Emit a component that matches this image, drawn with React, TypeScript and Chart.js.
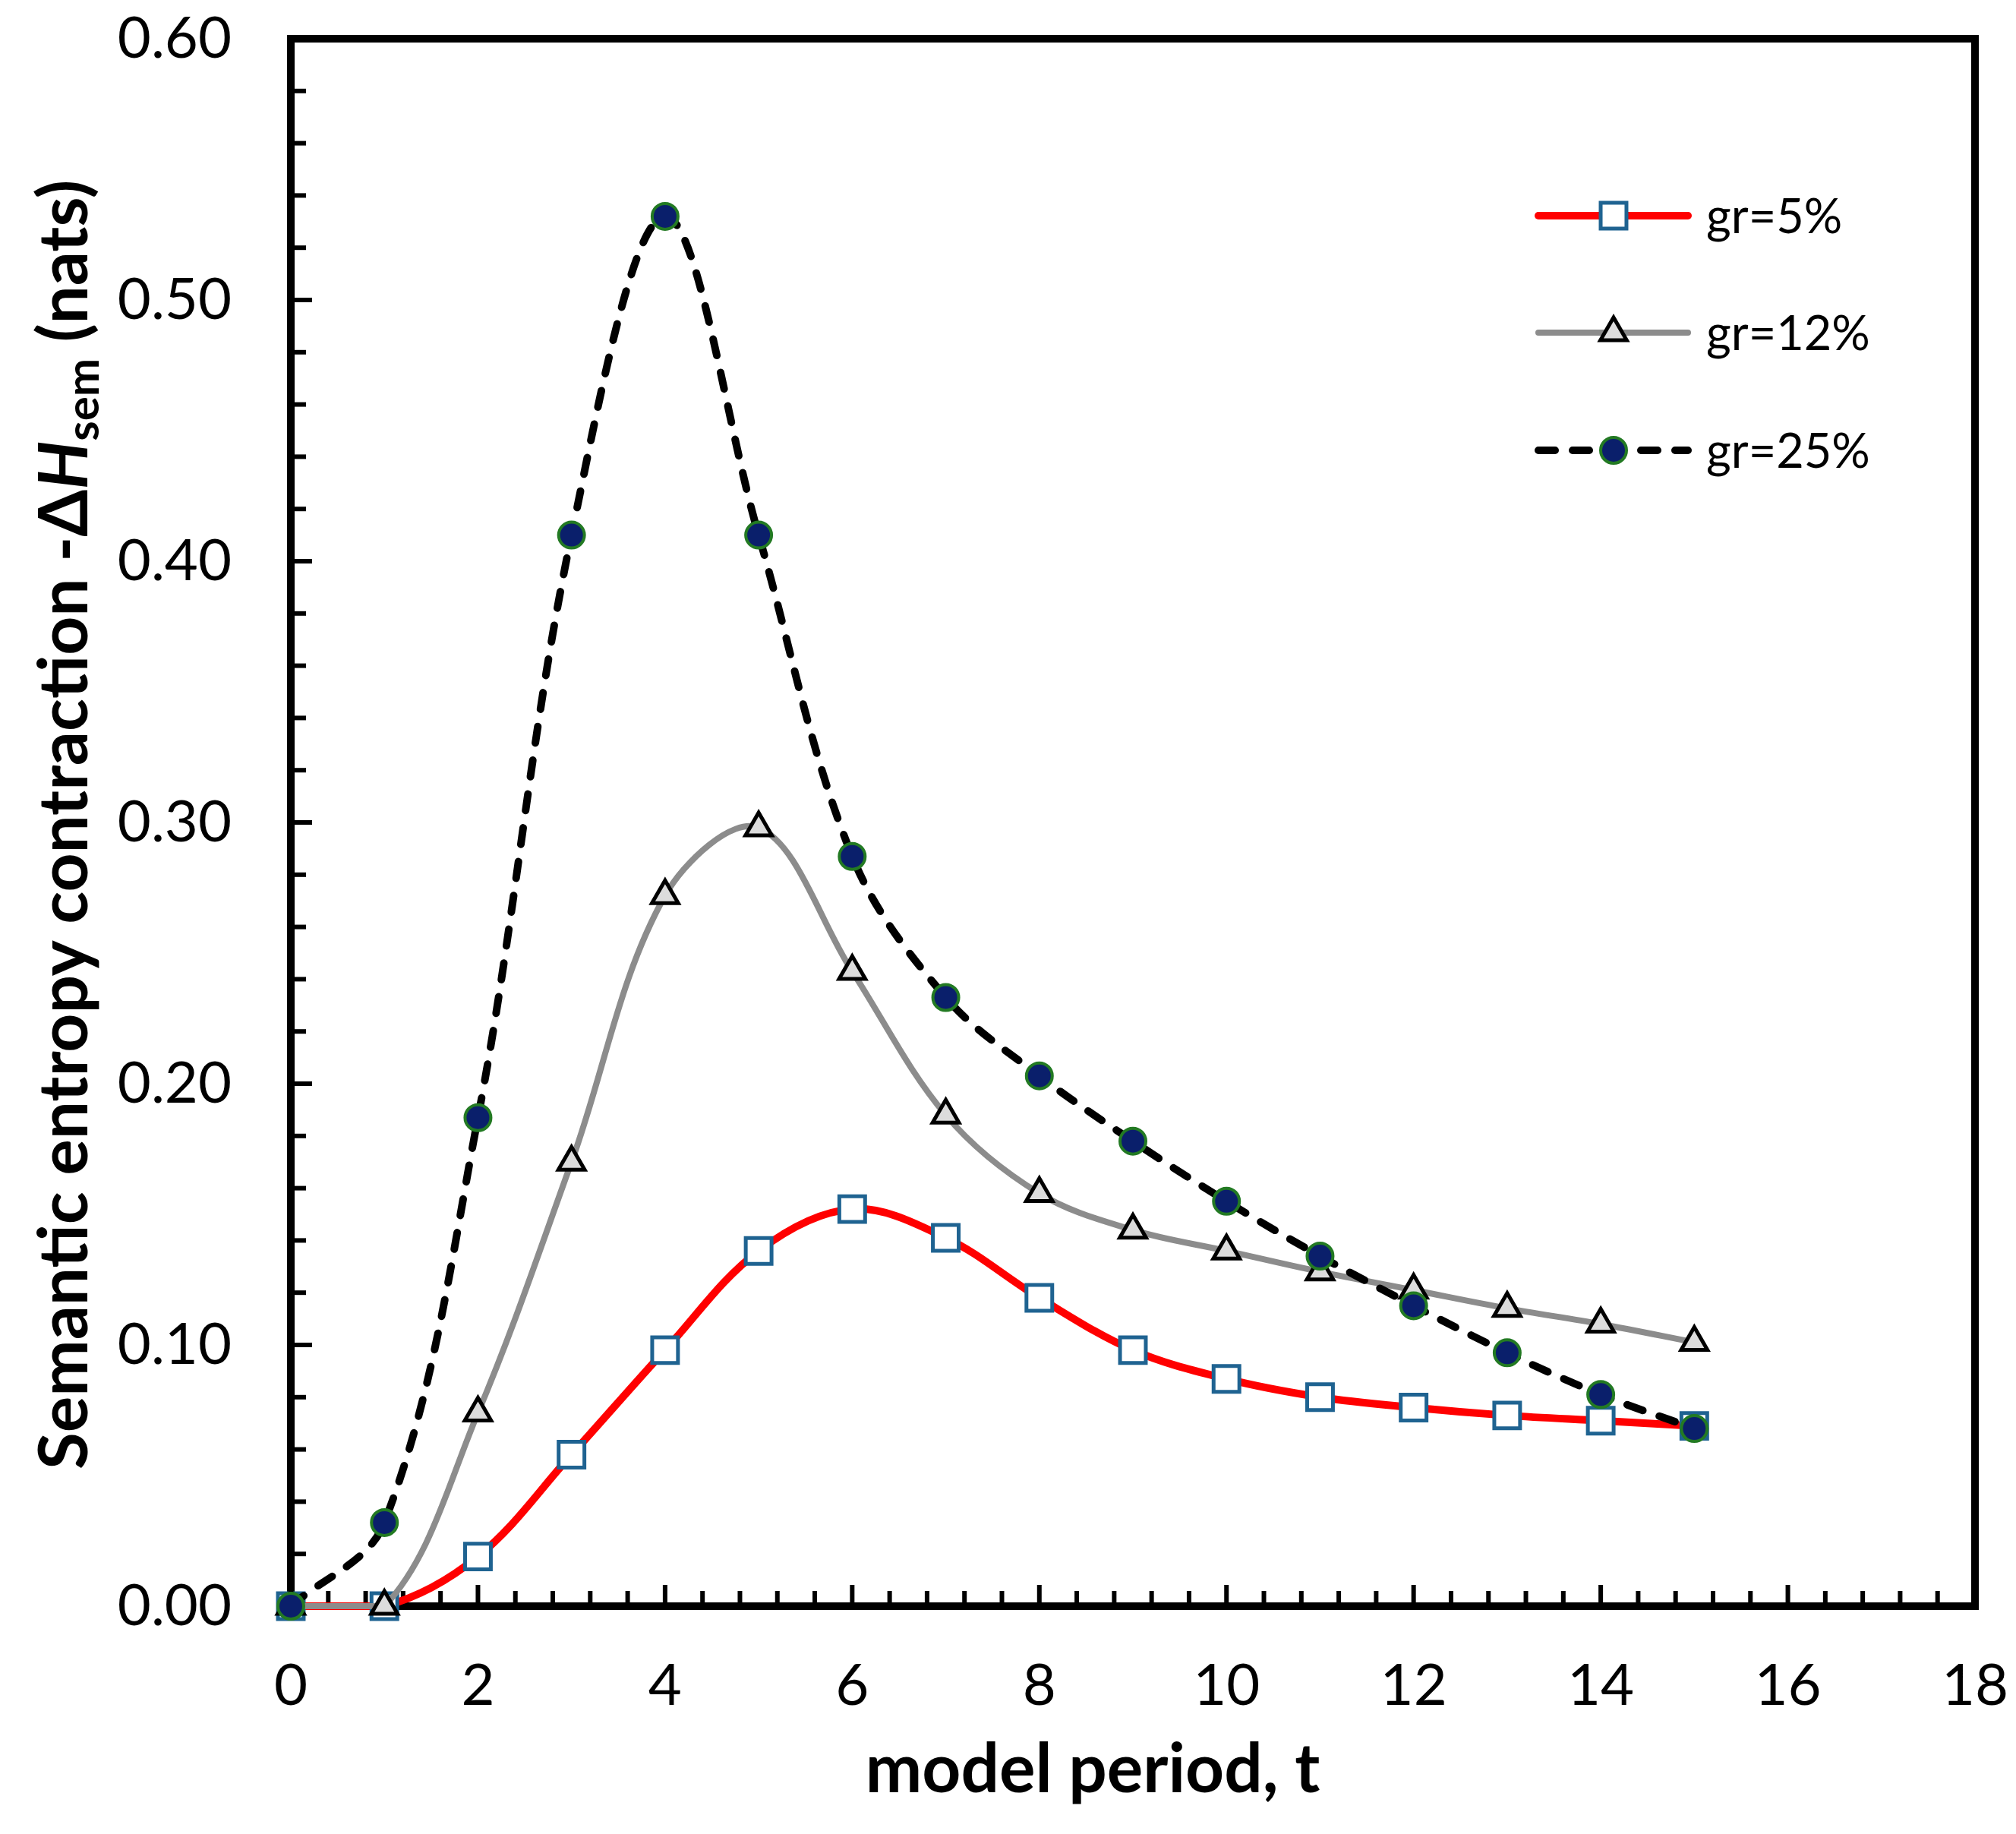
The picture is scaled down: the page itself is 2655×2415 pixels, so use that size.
import React, { useEffect, useRef } from 'react';
import { Chart, registerables } from 'chart.js';

Chart.register(...registerables);

// ---- data ----
const periods = [0, 1, 2, 3, 4, 5, 6, 7, 8, 9, 10, 11, 12, 13, 14, 15];
const gr5 = [0, 0, 0.019, 0.058, 0.098, 0.136, 0.152, 0.141, 0.118, 0.098, 0.087, 0.080, 0.076, 0.073, 0.071, 0.069];
const gr12 = [0, 0, 0.074, 0.170, 0.272, 0.298, 0.243, 0.188, 0.158, 0.144, 0.136, 0.128, 0.121, 0.114, 0.108, 0.101];
const gr25 = [0, 0.032, 0.187, 0.410, 0.532, 0.410, 0.287, 0.233, 0.203, 0.178, 0.155, 0.134, 0.115, 0.097, 0.081, 0.068];
const seriesLabels = ['gr=5%', 'gr=12%', 'gr=25%'];

const xMin = 0, xMax = 18, xMajor = 2, xMinor = 0.4;
const yMin = 0, yMax = 0.6, yMajor = 0.1, yMinor = 0.02;

const xTitle = 'model period, t';
const yTitleParts = [
  { text: 'Semantic entropy contraction -\u0394', italic: false, sub: false },
  { text: 'H', italic: true, sub: false },
  { text: 'sem', italic: false, sub: true },
  { text: ' (nats)', italic: false, sub: false },
];

// ---- styling ----
const W = 2655;
const H = 2415;
const FONT = 'Lato, "Noto Sans", sans-serif';
const RED = '#FF0000';
const GREY = '#8C8C8C';
const SQUARE_EDGE = '#1F6391';
const TRI_FILL = '#DCDCDC';
const NAVY = '#0A1F6B';
const GREEN = '#237A23';
const DASH = [22, 23];
const SQUARE_R = 24;
const TRI_R = 20;
const CIRCLE_R = 17;

type Marker = 'rect' | 'triangle' | 'circle';

function drawMarker(ctx: CanvasRenderingContext2D, kind: Marker, x: number, y: number) {
  ctx.save();
  ctx.setLineDash([]);
  ctx.beginPath();
  if (kind === 'rect') {
    const s = SQUARE_R * Math.SQRT1_2;
    ctx.rect(x - s, y - s, 2 * s, 2 * s);
    ctx.fillStyle = '#FFFFFF';
    ctx.strokeStyle = SQUARE_EDGE;
    ctx.lineWidth = 5;
  } else if (kind === 'triangle') {
    const r = TRI_R;
    ctx.moveTo(x, y - r);
    ctx.lineTo(x + r * 0.866, y + r * 0.5);
    ctx.lineTo(x - r * 0.866, y + r * 0.5);
    ctx.closePath();
    ctx.fillStyle = TRI_FILL;
    ctx.strokeStyle = '#000000';
    ctx.lineWidth = 5;
  } else {
    ctx.arc(x, y, CIRCLE_R, 0, Math.PI * 2);
    ctx.fillStyle = NAVY;
    ctx.strokeStyle = GREEN;
    ctx.lineWidth = 4;
  }
  ctx.fill();
  ctx.stroke();
  ctx.restore();
}

// Box frame plus inward-pointing major/minor tick marks
const frameTicks = {
  id: 'frameTicks',
  beforeDatasetsDraw(chart: any) {
    const { ctx, chartArea: a, scales } = chart;
    const xs = scales.x;
    const ys = scales.y;
    ctx.save();
    ctx.strokeStyle = '#000';
    ctx.lineWidth = 10;
    ctx.lineJoin = 'miter';
    ctx.strokeRect(a.left, a.top, a.right - a.left, a.bottom - a.top);

    ctx.lineWidth = 6;
    ctx.lineCap = 'butt';
    const nx = Math.round((xMax - xMin) / xMinor);
    const perX = Math.round(xMajor / xMinor);
    for (let i = 1; i < nx; i++) {
      const px = xs.getPixelForValue(xMin + i * xMinor);
      const len = i % perX === 0 ? 28 : 20;
      ctx.beginPath();
      ctx.moveTo(px, a.bottom);
      ctx.lineTo(px, a.bottom - len);
      ctx.stroke();
    }
    const ny = Math.round((yMax - yMin) / yMinor);
    const perY = Math.round(yMajor / yMinor);
    for (let i = 1; i < ny; i++) {
      const py = ys.getPixelForValue(yMin + i * yMinor);
      const len = i % perY === 0 ? 28 : 20;
      ctx.beginPath();
      ctx.moveTo(a.left, py);
      ctx.lineTo(a.left + len, py);
      ctx.stroke();
    }
    ctx.restore();
  },
};

// Legend with line sample and marker, plus axis titles
const annotations = {
  id: 'annotations',
  afterDraw(chart: any) {
    const { ctx, chartArea: a } = chart;
    ctx.save();

    // legend
    const lx0 = a.right - 575;
    const lx1 = lx0 + 197;
    const mx = lx0 + 99;
    const tx = lx0 + 221;
    const rows = [a.top + 233, a.top + 387, a.top + 542];
    const styles: { color: string; width: number; dash: number[]; marker: Marker }[] = [
      { color: RED, width: 10, dash: [], marker: 'rect' },
      { color: GREY, width: 8, dash: [], marker: 'triangle' },
      { color: '#000', width: 10, dash: DASH, marker: 'circle' },
    ];
    styles.forEach((s, i) => {
      const y = rows[i];
      ctx.save();
      ctx.strokeStyle = s.color;
      ctx.lineWidth = s.width;
      ctx.lineCap = 'round';
      ctx.setLineDash(s.dash);
      ctx.beginPath();
      ctx.moveTo(lx0, y);
      ctx.lineTo(lx1, y);
      ctx.stroke();
      ctx.restore();
      drawMarker(ctx, s.marker, mx, y);
      ctx.fillStyle = '#000';
      ctx.font = `63px ${FONT}`;
      ctx.textAlign = 'left';
      ctx.textBaseline = 'alphabetic';
      ctx.fillText(seriesLabels[i], tx, y + 23);
    });

    // x-axis title
    ctx.fillStyle = '#000';
    ctx.font = `bold 89px ${FONT}`;
    ctx.textAlign = 'center';
    ctx.textBaseline = 'alphabetic';
    ctx.fillText(xTitle, 1439, 2360);

    // y-axis title (rotated, with italic H and subscript)
    const mainSize = 89;
    const subSize = 60;
    const fontFor = (p: { italic: boolean; sub: boolean }) =>
      `${p.italic ? 'italic ' : ''}bold ${p.sub ? subSize : mainSize}px ${FONT}`;
    let total = 0;
    const widths = yTitleParts.map((p) => {
      ctx.font = fontFor(p);
      const w = ctx.measureText(p.text).width;
      total += w;
      return w;
    });
    ctx.translate(115, (a.top + a.bottom) / 2 + 3);
    ctx.rotate(-Math.PI / 2);
    ctx.textAlign = 'left';
    let cx = -total / 2;
    yTitleParts.forEach((p, i) => {
      ctx.font = fontFor(p);
      ctx.fillText(p.text, cx, p.sub ? 15 : 0);
      cx += widths[i];
    });
    ctx.restore();
  },
};

export default function App() {
  const ref = useRef<HTMLCanvasElement>(null);

  useEffect(() => {
    const canvas = ref.current;
    if (!canvas) return;
    const toPoints = (vals: number[]) => periods.map((t, i) => ({ x: t, y: vals[i] }));

    const chart = new Chart(canvas, {
      type: 'line',
      data: {
        datasets: [
          {
            label: seriesLabels[0],
            data: toPoints(gr5),
            borderColor: RED,
            borderWidth: 10,
            tension: 0.35,
            pointStyle: 'rect',
            pointRadius: SQUARE_R,
            pointBackgroundColor: '#FFFFFF',
            pointBorderColor: SQUARE_EDGE,
            pointBorderWidth: 5,
            clip: false,
            order: 3,
          },
          {
            label: seriesLabels[1],
            data: toPoints(gr12),
            borderColor: GREY,
            borderWidth: 8,
            tension: 0.35,
            pointStyle: 'triangle',
            pointRadius: TRI_R,
            pointBackgroundColor: TRI_FILL,
            pointBorderColor: '#000000',
            pointBorderWidth: 5,
            clip: false,
            order: 2,
          },
          {
            label: seriesLabels[2],
            data: toPoints(gr25),
            borderColor: '#000000',
            borderWidth: 10,
            borderDash: DASH,
            borderCapStyle: 'round',
            tension: 0.35,
            pointStyle: 'circle',
            pointRadius: CIRCLE_R,
            pointBackgroundColor: NAVY,
            pointBorderColor: GREEN,
            pointBorderWidth: 4,
            clip: false,
            order: 1,
          },
        ] as any,
      },
      options: {
        responsive: false,
        devicePixelRatio: 1,
        animation: false,
        events: [],
        layout: { padding: { left: 0, top: 51, right: 54, bottom: 0 } },
        plugins: {
          legend: { display: false },
          tooltip: { enabled: false },
        },
        scales: {
          x: {
            type: 'linear',
            min: xMin,
            max: xMax,
            grid: { display: false, drawTicks: false },
            border: { display: false },
            ticks: {
              stepSize: xMajor,
              color: '#000',
              padding: 60,
              font: { family: FONT, size: 76 },
              callback: (v: any) => String(v),
            },
            afterFit: (s: any) => {
              s.height = 300;
              s.paddingLeft = 0;
              s.paddingRight = 0;
            },
          },
          y: {
            type: 'linear',
            min: yMin,
            max: yMax,
            grid: { display: false, drawTicks: false },
            border: { display: false },
            ticks: {
              stepSize: yMajor,
              color: '#000',
              padding: 78,
              font: { family: FONT, size: 76 },
              callback: (v: any) => Number(v).toFixed(2),
            },
            afterFit: (s: any) => {
              s.width = 383;
              s.paddingTop = 0;
              s.paddingBottom = 0;
            },
          },
        },
      },
      plugins: [frameTicks, annotations],
    } as any);

    if ((document as any).fonts && (document as any).fonts.load) {
      Promise.all([
        (document as any).fonts.load(`76px Lato`),
        (document as any).fonts.load(`bold 89px Lato`),
        (document as any).fonts.load(`italic bold 89px Lato`),
      ])
        .then(() => chart.update())
        .catch(() => undefined);
    }

    return () => chart.destroy();
  }, []);

  return (
    <div style={{ position: 'absolute', left: 0, top: 0, width: W, height: H, background: '#FFFFFF' }}>
      <canvas ref={ref} width={W} height={H} style={{ width: W, height: H, display: 'block' }} />
    </div>
  );
}
